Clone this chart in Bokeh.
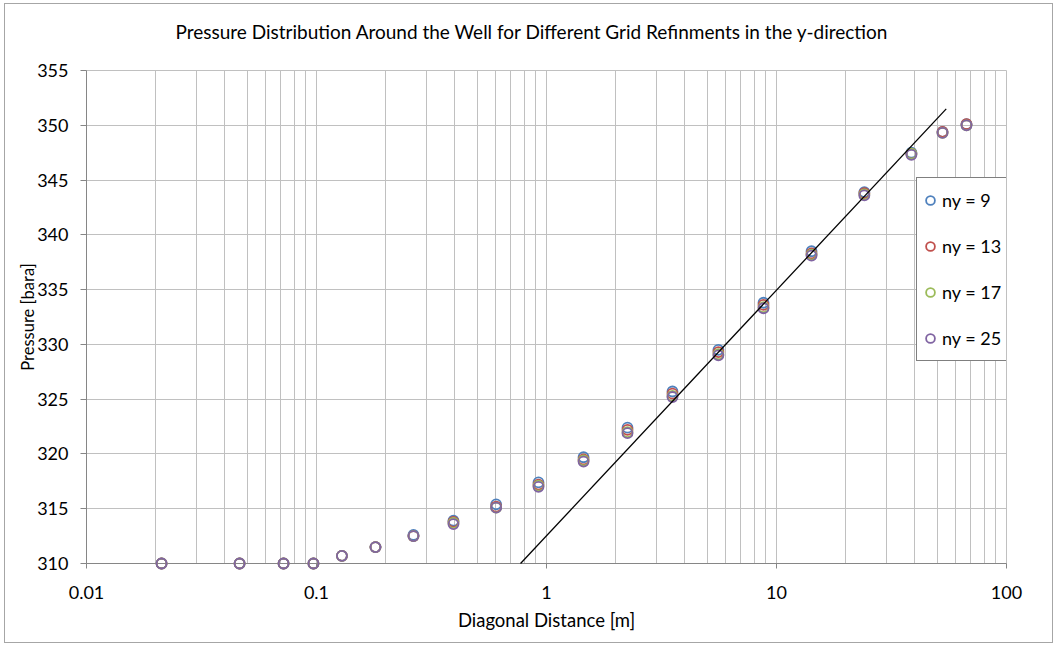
import numpy as np
from bokeh.plotting import figure
from bokeh.models import FixedTicker, CustomJSTickFormatter, Range1d, Legend, LegendItem, Title
from bokeh.embed import file_html
from bokeh.resources import INLINE

# Diagonal distance from the well [m]
distance = [0.0212, 0.0463, 0.0719, 0.0970, 0.129, 0.1805, 0.264, 0.394, 0.604, 0.923,
            1.449, 2.25, 3.53, 5.59, 8.78, 14.2, 24.1, 38.6, 52.7, 67.0]

# Pressure [bara] for each grid refinement in y
p_ny9 = [310.0, 310.0, 310.0, 310.0, 310.7, 311.5, 312.6, 313.9, 315.4, 317.4,
         319.7, 322.4, 325.7, 329.5, 333.8, 338.5, 343.9, 347.5, 349.4, 350.1]
p_ny13 = [310.0, 310.0, 310.0, 310.0, 310.7, 311.5, 312.5, 313.8, 315.2, 317.2,
          319.5, 322.2, 325.5, 329.3, 333.6, 338.3, 343.8, 347.4, 349.4, 350.1]
p_ny17 = [310.0, 310.0, 310.0, 310.0, 310.7, 311.5, 312.5, 313.7, 315.1, 317.1,
          319.4, 322.0, 325.3, 329.1, 333.4, 338.2, 343.7, 347.4, 349.3, 350.0]
p_ny25 = [310.0, 310.0, 310.0, 310.0, 310.7, 311.5, 312.5, 313.6, 315.1, 317.0,
          319.3, 321.9, 325.2, 329.0, 333.3, 338.1, 343.6, 347.3, 349.3, 350.0]

series_labels = ["ny = 9", "ny = 13", "ny = 17", "ny = 25"]
series_values = [p_ny9, p_ny13, p_ny17, p_ny25]
series_colors = ["#4F81BD", "#C0504D", "#9BBB59", "#8064A2"]

# Logarithmic trendline: p = intercept + slope * log10(r)
trend_slope = 22.42
trend_intercept = 312.53
trend_x = [0.771, 54.7]

x_major = [0.01, 0.1, 1, 10, 100]
y_major = [310, 315, 320, 325, 330, 335, 340, 345, 350, 355]

chart_title = "Pressure Distribution Around the Well for Different Grid Refinments in the y-direction"

FONT = "Lato"

p = figure(
    width=1049, height=640,
    x_axis_type="log",
    x_range=Range1d(0.01, 100), y_range=Range1d(310, 355),
    output_backend="svg", toolbar_location=None,
    min_border_left=81, min_border_right=48, min_border_top=66, min_border_bottom=81,
)
p.styles = {"margin-left": "4px", "margin-top": "3px", "border": "1px solid #a6a6a6"}
p.background_fill_color = "white"
p.border_fill_color = "white"
p.outline_line_color = "#c0c0c0"

# blank strip between the plot frame and the heading
p.add_layout(Title(text=" ", text_font_size="1px", standoff=25), "above")
# heading, centred over the whole chart area rather than over the plot frame
p.add_layout(Title(text=chart_title, align="left", offset=89, standoff=0,
                   vertical_align="bottom", text_font=FONT, text_font_size="19px",
                   text_font_style="normal", text_color="#000000"), "above")

# axes
minor = [m * 10.0 ** e for e in range(-2, 2) for m in range(2, 10)]
p.xaxis.ticker = FixedTicker(ticks=x_major, minor_ticks=minor)
p.xaxis.formatter = CustomJSTickFormatter(code="return String(parseFloat(tick.toPrecision(6)))")
p.yaxis.ticker = FixedTicker(ticks=y_major)

for ax in (p.xaxis[0], p.yaxis[0]):
    ax.axis_line_color = "#868686"
    ax.major_tick_line_color = "#868686"
    ax.minor_tick_line_color = None
    ax.major_tick_in = 0
    ax.major_label_text_font = FONT
    ax.major_label_text_font_size = "18px"
    ax.major_label_text_color = "#000000"
    ax.axis_label_text_font = FONT
    ax.axis_label_text_font_style = "normal"
    ax.axis_label_text_color = "#000000"

p.xaxis.major_tick_out = 5
p.xaxis.major_label_standoff = 17
p.xaxis.axis_label = "Diagonal Distance [m]"
p.xaxis.axis_label_text_font_size = "18.5px"
p.xaxis.axis_label_standoff = 7

p.yaxis.major_tick_out = 6
p.yaxis.major_label_standoff = 12
p.yaxis.axis_label = "Pressure [bara]"
p.yaxis.axis_label_text_font_size = "16.5px"
p.yaxis.axis_label_standoff = -4

# grid
p.xgrid.grid_line_color = "#c0c0c0"
p.xgrid.minor_grid_line_color = "#c0c0c0"
p.ygrid.grid_line_color = "#c0c0c0"

# data series
items = []
for label, vals, color in zip(series_labels, series_values, series_colors):
    r = p.scatter(distance, vals, marker="circle", size=10, line_color=color,
                  fill_color=None, line_width=1.8, level="overlay")
    items.append(LegendItem(label=label, renderers=[r]))

# trendline
trend_y = [trend_intercept + trend_slope * np.log10(x) for x in trend_x]
p.line(trend_x, trend_y, line_color="black", line_width=1.3, level="overlay")

legend = Legend(items=items, location=(830, 202), margin=0, padding=2, spacing=6,
                glyph_width=22, glyph_height=40, label_height=40, label_width=67,
                label_standoff=1,
                label_text_font=FONT, label_text_font_size="18px",
                label_text_color="#000000",
                border_line_color="black", border_line_width=1,
                background_fill_color="white", background_fill_alpha=1.0)
p.add_layout(legend)

open("out.html", "w").write(file_html(p, INLINE))
